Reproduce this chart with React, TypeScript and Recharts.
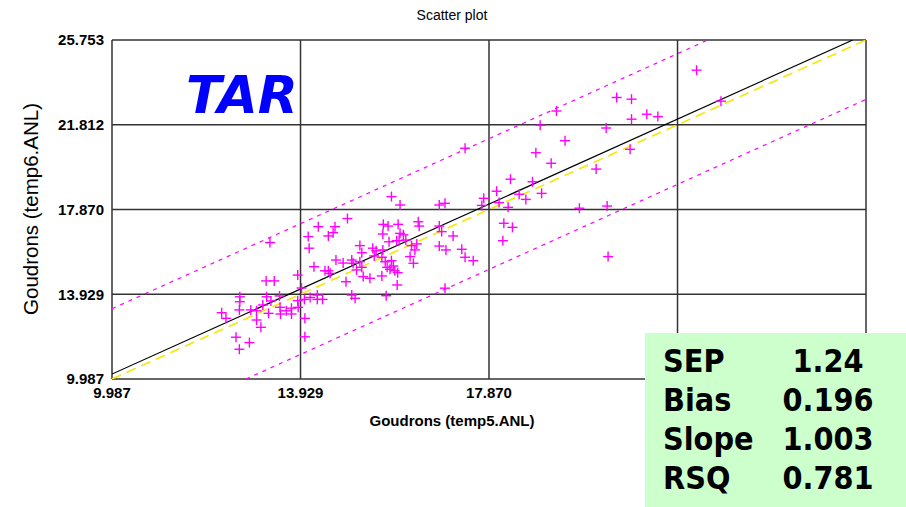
import React from "react";
import {
  ScatterChart,
  Scatter,
  XAxis,
  YAxis,
  CartesianGrid,
  ReferenceLine,
} from "recharts";

// reference values (temp5.ANL) and predicted values (temp6.ANL)
const REF_X = [
  12.28, 12.37, 12.66, 12.66, 12.65, 12.58, 12.65, 12.86, 12.89, 13.01,
  13.1, 13.01, 13.14, 13.21, 13.38, 13.29, 13.26, 13.22, 13.31, 13.5,
  13.51, 13.63, 13.74, 13.74, 13.88, 13.87, 13.87, 14.02, 14.02, 14.01,
  13.95, 14.13, 14.28, 14.28, 14.39, 13.49,
  14.09, 14.11, 14.21, 14.3, 14.51, 14.65, 14.61, 14.91, 14.44, 14.51,
  14.55, 14.67, 14.82, 14.88, 15.0, 15.03, 15.0, 15.07, 15.1, 15.17,
  15.21, 15.17, 15.21, 15.24, 15.38, 15.44, 15.51, 15.47, 15.63, 15.65,
  15.65, 15.66, 15.76, 15.63, 15.7, 15.74, 15.72, 15.78, 15.83, 15.87,
  15.8, 15.9, 15.96, 15.95, 15.94, 15.99, 15.97, 16.01, 16.08, 16.13,
  15.83, 16.01, 16.22, 16.25, 16.32, 16.29, 16.36, 16.39, 16.41, 16.83,
  16.95, 16.83, 16.88, 16.83, 16.97, 16.95, 17.12, 17.3, 17.37, 17.54,
  17.37,
  17.76, 17.72, 18.03, 18.08, 18.27, 18.32, 18.18, 18.36, 18.16, 18.5,
  18.64, 18.78, 18.97, 18.85, 18.94, 19.17, 19.28, 19.46, 19.76, 20.11,
  20.32, 20.34, 20.36, 20.54, 20.85, 20.85, 20.82, 21.17, 21.4, 22.21,
  22.72,
];
const PRED_Y = [
  13.07, 12.81, 13.81, 13.58, 13.2, 11.93, 11.37, 11.68, 13.2, 12.73,
  12.39, 13.16, 13.43, 14.55, 14.55, 16.33, 13.04, 13.81, 13.62, 13.32,
  13.01, 13.16, 13.28, 13.01, 13.32, 13.63, 14.82, 12.81, 11.95, 13.69,
  14.22, 13.78, 13.89, 13.69, 13.69, 13.85,
  16.61, 16.07, 15.21, 17.07, 16.64, 17.07, 16.79, 17.45, 15.02, 15.02,
  14.9, 15.52, 15.38, 14.51, 15.52, 15.37, 13.89, 13.74, 15.06, 16.19,
  15.86, 15.44, 15.18, 14.75, 14.67, 16.07, 15.95, 15.71, 15.65, 15.99,
  16.73, 17.18, 17.1, 14.78, 15.44, 15.18, 13.86, 16.37, 15.49, 15.24,
  15.09, 15.02, 14.93, 14.36, 16.42, 16.42, 17.18, 16.76, 16.69, 16.45,
  18.47, 18.08, 15.68, 16.19, 15.99, 15.37, 16.27, 17.3, 17.1, 18.08,
  18.16, 17.1, 16.84, 16.17, 15.99, 14.21, 16.64, 16.02, 15.65, 15.49,
  20.72,
  18.39, 18.06, 18.72, 18.19, 17.97, 19.28, 17.23, 17.04, 16.42, 18.58,
  18.34, 19.16, 18.62, 20.51, 21.79, 20.02, 22.45, 21.07, 17.93, 19.75,
  21.66, 18.03, 15.68, 23.08, 23.0, 22.07, 20.67, 22.3, 22.19, 24.35,
  22.91,
];

const AXIS_TICKS = [9.987, 13.929, 17.87, 21.812, 25.753];
// x tick labels hidden behind the stats box in the original
const HIDDEN_X_LABELS = [21.812, 25.753];
const AXIS_MIN = 9.987;
const AXIS_MAX = 25.753;

const FIT_SLOPE = 1.003;
const FIT_INTERCEPT = 0.2;
const BAND = 3.04;

const STAT_LABELS = ["SEP", "Bias", "Slope", "RSQ"];
const STAT_VALUES = ["1.24", "0.196", "1.003", "0.781"];

const points = REF_X.map((x, i) => ({ x, y: PRED_Y[i] }));

// clip a line y = a*x + b to the square plot domain
function segment(a: number, b: number) {
  const x0 = Math.max(AXIS_MIN, (AXIS_MIN - b) / a);
  const x1 = Math.min(AXIS_MAX, (AXIS_MAX - b) / a);
  return [
    { x: x0, y: a * x0 + b },
    { x: x1, y: a * x1 + b },
  ];
}

const PlusMark = (props: any) => {
  const { cx, cy } = props;
  if (cx == null || cy == null) return null;
  return (
    <g stroke="#ff00ff" strokeWidth={1.4}>
      <line x1={cx - 5} y1={cy} x2={cx + 5} y2={cy} />
      <line x1={cx} y1={cy - 5} x2={cx} y2={cy + 5} />
    </g>
  );
};

const tickStyle = {
  fontFamily: "'Liberation Sans', Arial, sans-serif",
  fontSize: 15,
  fontWeight: 700,
  fill: "#000",
};

const statFont = "'DejaVu Sans Condensed', 'DejaVu Sans', sans-serif";

const fmt = (v: number) => v.toFixed(3);
const fmtX = (v: number) => (HIDDEN_X_LABELS.includes(v) ? "" : v.toFixed(3));

export default function App() {
  return (
    <div
      style={{
        position: "absolute",
        left: 0,
        top: 0,
        width: 906,
        height: 507,
        background: "#fff",
      }}
    >
      <ScatterChart
        width={906}
        height={507}
        margin={{ top: 40, right: 40, bottom: 98, left: 0 }}
      >
        <CartesianGrid stroke="#333" strokeWidth={1.5} />
        <XAxis
          type="number"
          dataKey="x"
          domain={[AXIS_MIN, AXIS_MAX]}
          ticks={AXIS_TICKS}
          tickFormatter={fmtX}
          allowDataOverflow
          axisLine={false}
          tickLine={false}
          height={30}
          tick={tickStyle}
        />
        <YAxis
          type="number"
          dataKey="y"
          domain={[AXIS_MIN, AXIS_MAX]}
          ticks={AXIS_TICKS}
          tickFormatter={fmt}
          allowDataOverflow
          axisLine={false}
          tickLine={false}
          width={112}
          tick={tickStyle}
        />
        <ReferenceLine
          segment={segment(FIT_SLOPE, FIT_INTERCEPT + BAND)}
          stroke="#ff00ff"
          strokeWidth={1.2}
          strokeDasharray="4 5"
          ifOverflow="hidden"
        />
        <ReferenceLine
          segment={segment(FIT_SLOPE, FIT_INTERCEPT - BAND)}
          stroke="#ff00ff"
          strokeWidth={1.2}
          strokeDasharray="4 5"
          ifOverflow="hidden"
        />
        <ReferenceLine
          segment={segment(1, 0)}
          stroke="#f5e800"
          strokeWidth={1.6}
          strokeDasharray="10 6"
          ifOverflow="hidden"
        />
        <ReferenceLine
          segment={segment(FIT_SLOPE, FIT_INTERCEPT)}
          stroke="#000"
          strokeWidth={1.2}
          ifOverflow="hidden"
        />
        <Scatter
          data={points}
          shape={PlusMark}
          isAnimationActive={false}
        />
      </ScatterChart>

      <svg
        width={906}
        height={507}
        style={{ position: "absolute", left: 0, top: 0, pointerEvents: "none" }}
      >
        <text
          x={452}
          y={20}
          textAnchor="middle"
          fontFamily="'Liberation Sans Narrow', 'Liberation Sans', Arial, sans-serif"
          fontSize={14}
          fill="#000"
        >
          Scatter plot
        </text>
        <text
          x={452}
          y={426}
          textAnchor="middle"
          fontFamily="'Liberation Sans', Arial, sans-serif"
          fontSize={15}
          fontWeight={700}
          fill="#000"
        >
          Goudrons (temp5.ANL)
        </text>
        <text
          x={0}
          y={0}
          transform="translate(38,209) rotate(-90)"
          textAnchor="middle"
          fontFamily="'Liberation Sans', Arial, sans-serif"
          fontSize={20.5}
          fill="#000"
        >
          Goudrons (temp6.ANL)
        </text>
        <text
          x={186}
          y={113}
          fontFamily="'DejaVu Sans', sans-serif"
          fontSize={52}
          fontWeight={700}
          fontStyle="italic"
          fill="#0000ff"
        >
          TAR
        </text>
        <rect x={645} y={333} width={261} height={174} fill="#ccffcc" />
        {STAT_LABELS.map((label, i) => (
          <g key={label}>
            <text
              x={663}
              y={372 + i * 39}
              fontFamily={statFont}
              fontSize={32}
              fontWeight={700}
              fill="#000"
            >
              {label}
            </text>
            <text
              x={828}
              y={372 + i * 39}
              textAnchor="middle"
              fontFamily={statFont}
              fontSize={32}
              fontWeight={700}
              fill="#000"
            >
              {STAT_VALUES[i]}
            </text>
          </g>
        ))}
      </svg>
    </div>
  );
}
